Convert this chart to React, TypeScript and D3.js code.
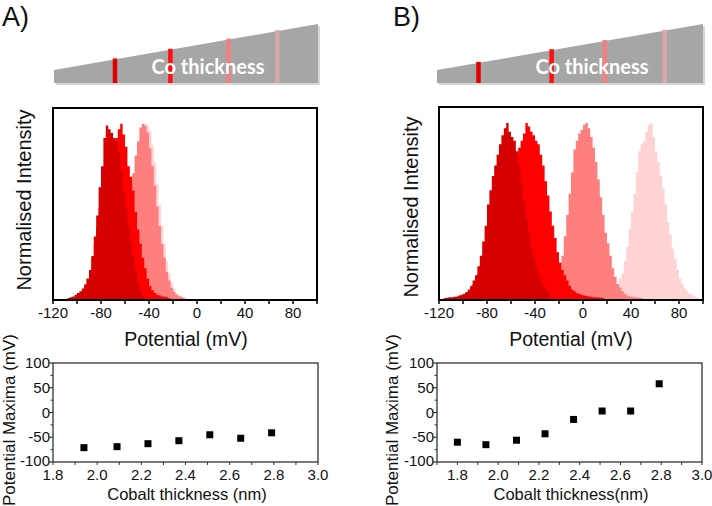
import React from 'react';
import * as d3 from 'd3';

// ---------- DATA ----------
const HIST_STEP = 2; // mV per bin
const histTicks = [-120, -80, -40, 0, 40, 80];
const histMinorTicks = [-100, -60, -20, 20, 60, 100];

// Panel A histograms (normalised intensity, 2 mV bins)
const histA_darkRed_start = -108;
const histA_darkRed = [0.012, 0.015, 0.02, 0.03, 0.04, 0.05, 0.065, 0.09, 0.12, 0.17, 0.25, 0.36, 0.48, 0.64, 0.76, 0.92, 0.99, 0.97, 0.95, 0.92, 0.9, 0.84, 0.74, 0.62, 0.52, 0.42, 0.33, 0.25, 0.17, 0.1, 0.05, 0.02];
const histA_red_start = -100;
const histA_red = [0.02, 0.03, 0.05, 0.08, 0.12, 0.17, 0.24, 0.32, 0.42, 0.52, 0.62, 0.7, 0.78, 0.84, 0.88, 0.9, 0.92, 0.97, 1.0, 0.94, 0.87, 0.76, 0.7, 0.62, 0.5, 0.4, 0.32, 0.24, 0.18, 0.12, 0.08, 0.055, 0.04, 0.03, 0.025, 0.02, 0.018, 0.015, 0.01];
const histA_salmon_start = -80;
const histA_salmon = [0.02, 0.03, 0.05, 0.08, 0.12, 0.18, 0.25, 0.33, 0.42, 0.5, 0.57, 0.62, 0.66, 0.72, 0.82, 0.9, 0.98, 1.0, 0.99, 0.95, 0.86, 0.76, 0.65, 0.53, 0.42, 0.32, 0.24, 0.16, 0.11, 0.07, 0.045, 0.03, 0.022, 0.018, 0.012];
const histA_pink_start = -76;
const histA_pink = [0.02, 0.03, 0.05, 0.08, 0.12, 0.18, 0.25, 0.33, 0.42, 0.5, 0.58, 0.66, 0.76, 0.86, 0.94, 0.99, 1.0, 0.99, 0.96, 0.88, 0.78, 0.66, 0.54, 0.42, 0.32, 0.22, 0.15, 0.1, 0.065, 0.04, 0.03, 0.02, 0.015, 0.01];

// Panel B histograms
const histB_darkRed_start = -116;
const histB_darkRed = [0.012, 0.013, 0.015, 0.015, 0.018, 0.02, 0.025, 0.03, 0.035, 0.045, 0.06, 0.08, 0.11, 0.14, 0.19, 0.25, 0.33, 0.42, 0.54, 0.62, 0.7, 0.76, 0.82, 0.88, 0.93, 0.97, 1.0, 0.95, 0.92, 0.9, 0.84, 0.76, 0.66, 0.56, 0.46, 0.38, 0.3, 0.24, 0.19, 0.15, 0.11, 0.08, 0.06, 0.045];
const histB_red_start = -110;
const histB_red = [0.01, 0.012, 0.015, 0.02, 0.025, 0.03, 0.04, 0.05, 0.07, 0.09, 0.12, 0.15, 0.19, 0.24, 0.3, 0.36, 0.43, 0.5, 0.57, 0.63, 0.68, 0.72, 0.76, 0.79, 0.8, 0.8, 0.81, 0.82, 0.86, 0.9, 0.94, 1.0, 0.98, 0.95, 0.93, 0.9, 0.88, 0.82, 0.76, 0.67, 0.59, 0.5, 0.42, 0.35, 0.27, 0.21, 0.17, 0.14, 0.11, 0.08, 0.06, 0.05, 0.04, 0.035, 0.03, 0.025, 0.022, 0.02, 0.018, 0.016, 0.015, 0.014, 0.013, 0.012];
const histB_salmon_start = -28;
const histB_salmon = [0.01, 0.02, 0.04, 0.08, 0.15, 0.25, 0.36, 0.48, 0.6, 0.72, 0.85, 0.9, 0.94, 0.96, 0.99, 1.0, 0.97, 0.92, 0.86, 0.78, 0.68, 0.58, 0.48, 0.38, 0.32, 0.25, 0.18, 0.13, 0.09, 0.07, 0.05, 0.035, 0.025, 0.02, 0.018, 0.016, 0.015, 0.013, 0.012];
const histB_pink_start = 28;
const histB_pink = [0.03, 0.12, 0.15, 0.22, 0.3, 0.4, 0.5, 0.6, 0.72, 0.84, 0.88, 0.9, 0.95, 0.99, 1.0, 0.92, 0.84, 0.78, 0.7, 0.63, 0.54, 0.44, 0.37, 0.29, 0.23, 0.17, 0.12, 0.09, 0.065, 0.05, 0.035, 0.03, 0.02, 0.015];

// Scatter: potential maxima vs cobalt thickness
const thicknessA = [1.94, 2.09, 2.23, 2.37, 2.51, 2.65, 2.79];
const maximaA = [-71, -69, -63, -57, -45, -52, -41];
const thicknessB = [1.8, 1.94, 2.09, 2.23, 2.37, 2.51, 2.65, 2.79];
const maximaB = [-60, -65, -56, -43, -14, 3, 3, 58];
const scatterXTicks = [1.8, 2.0, 2.2, 2.4, 2.6, 2.8, 3.0];
const scatterYTicks = [100, 50, 0, -50, -100];

const colors = { darkRed: '#d60000', red: '#ff0000', salmon: '#ff7f7f', pink: '#ffd3d3' };

const FONT = '"Liberation Sans", Arial, sans-serif';

type Series = { start: number; values: number[]; color: string };

function Histogram({ left, right, top, bottom, series }: { left: number; right: number; top: number; bottom: number; series: Series[] }) {
  const x = d3.scaleLinear().domain([-120, 100]).range([left, right]);
  const y = d3.scaleLinear().domain([0, 1.09]).range([bottom, top]);
  const area = d3
    .area<[number, number]>()
    .x((d) => x(d[0]))
    .y0(y(0))
    .y1((d) => y(d[1]))
    .curve(d3.curveStepAfter);
  return (
    <g>
      {series.map((s, i) => {
        const pts: [number, number][] = s.values.map((v, k) => [s.start + k * HIST_STEP, v]);
        pts.push([s.start + s.values.length * HIST_STEP, s.values[s.values.length - 1]]);
        return <path key={i} d={area(pts) || ''} fill={s.color} />;
      })}
      <rect x={left} y={top} width={right - left} height={bottom - top} fill="none" stroke="#000" strokeWidth={2} />
      {histTicks.concat(histMinorTicks).map((t) => (
        <line key={'t' + t} x1={x(t)} x2={x(t)} y1={bottom} y2={bottom + 4} stroke="#000" strokeWidth={1.5} />
      ))}
      {histTicks.map((t) => (
        <text key={'l' + t} x={x(t)} y={bottom + 18} textAnchor="middle" fontFamily={FONT} fontSize={15} fill="#111">
          {t}
        </text>
      ))}
    </g>
  );
}

function Scatter({ left, right, top, bottom, xDomain, xs, ys }: { left: number; right: number; top: number; bottom: number; xDomain: [number, number]; xs: number[]; ys: number[] }) {
  const x = d3.scaleLinear().domain(xDomain).range([left, right]);
  const y = d3.scaleLinear().domain([-100, 100]).range([bottom, top]);
  const minorX = d3.range(Math.round(xDomain[0] * 10), 31).map((v) => v / 10).filter((v) => v >= xDomain[0]);
  const minorY = [75, 25, -25, -75];
  return (
    <g>
      <rect x={left} y={top} width={right - left} height={bottom - top} fill="none" stroke="#333" strokeWidth={1.3} />
      {scatterYTicks.map((t) => (
        <g key={'y' + t}>
          <line x1={left - 4} x2={left} y1={y(t)} y2={y(t)} stroke="#333" strokeWidth={1.2} />
          <text x={left - 3} y={y(t) + (t === -100 ? 4 : 5)} textAnchor="end" fontFamily={FONT} fontSize={15} fill="#111">
            {t}
          </text>
        </g>
      ))}
      {minorY.map((t) => (
        <line key={'my' + t} x1={left - 2.5} x2={left} y1={y(t)} y2={y(t)} stroke="#333" strokeWidth={1} />
      ))}
      {minorX.map((t) => (
        <line key={'mx' + t} x1={x(t)} x2={x(t)} y1={bottom} y2={bottom + 3} stroke="#333" strokeWidth={1} />
      ))}
      {scatterXTicks.map((t) => (
        <text key={'x' + t} x={x(t)} y={bottom + 18} textAnchor="middle" fontFamily={FONT} fontSize={15} fill="#111">
          {t.toFixed(1)}
        </text>
      ))}
      {xs.map((v, i) => (
        <rect key={i} x={x(v) - 3.5} y={y(ys[i]) - 3.5} width={7} height={7} fill="#000" />
      ))}
    </g>
  );
}

function Wedge({ left, right, stripes, textX }: { left: number; right: number; stripes: { pos: number; color: string }[]; textX: number }) {
  const bottomY = 83;
  const leftTop = 70;
  const rightTop = 24;
  const topAt = (xx: number) => leftTop + ((xx - left) / (right - left)) * (rightTop - leftTop);
  return (
    <g>
      <polygon points={`${left + 2},${leftTop + 2} ${right + 2},${rightTop + 2} ${right + 2},${bottomY + 2} ${left + 2},${bottomY + 2}`} fill="#d6d6d6" />
      <polygon points={`${left},${leftTop} ${right},${rightTop} ${right},${bottomY} ${left},${bottomY}`} fill="#a6a6a6" />
      {stripes.map((s, i) => {
        const xx = left + s.pos * (right - left);
        return <rect key={i} x={xx - 2} y={topAt(xx) - 1} width={4.5} height={bottomY - topAt(xx) + 1} fill={s.color} />;
      })}
      <text x={textX} y={74} textAnchor="middle" fontFamily="Lato, 'Open Sans', sans-serif" fontWeight="bold" fontSize={20} fill="#fff">
        Co thickness
      </text>
    </g>
  );
}

export default function App() {
  const seriesA: Series[] = [
    { start: histA_pink_start, values: histA_pink, color: colors.pink },
    { start: histA_salmon_start, values: histA_salmon, color: colors.salmon },
    { start: histA_red_start, values: histA_red, color: colors.red },
    { start: histA_darkRed_start, values: histA_darkRed, color: colors.darkRed },
  ];
  const seriesB: Series[] = [
    { start: histB_pink_start, values: histB_pink, color: colors.pink },
    { start: histB_salmon_start, values: histB_salmon, color: colors.salmon },
    { start: histB_red_start, values: histB_red, color: colors.red },
    { start: histB_darkRed_start, values: histB_darkRed, color: colors.darkRed },
  ];
  const stripeColors = ['#e00000', '#ff1010', '#f08080', '#d8a8a8'];
  return (
    <svg width={712} height={506} style={{ position: 'absolute', left: 0, top: 0, background: '#fff' }}>
      <text x={2} y={26} fontFamily={FONT} fontSize={27} fill="#111">A)</text>
      <text x={393} y={26} fontFamily={FONT} fontSize={27} fill="#111">B)</text>

      <Wedge left={54} right={318} textX={208} stripes={[{ pos: 0.23, color: stripeColors[0] }, { pos: 0.44, color: stripeColors[1] }, { pos: 0.66, color: stripeColors[2] }, { pos: 0.845, color: stripeColors[3] }]} />
      <Wedge left={437} right={703} textX={592} stripes={[{ pos: 0.155, color: stripeColors[0] }, { pos: 0.43, color: stripeColors[1] }, { pos: 0.63, color: stripeColors[2] }, { pos: 0.855, color: stripeColors[3] }]} />

      <Histogram left={53} right={317} top={108} bottom={300} series={seriesA} />
      <Histogram left={439} right={703} top={107} bottom={300} series={seriesB} />

      <text transform="translate(31,200) rotate(-90)" textAnchor="middle" fontFamily={FONT} fontSize={20} fill="#111">Normalised Intensity</text>
      <text transform="translate(418,207) rotate(-90)" textAnchor="middle" fontFamily={FONT} fontSize={20} fill="#111">Normalised Intensity</text>
      <text x={186} y={346} textAnchor="middle" fontFamily={FONT} fontSize={19.5} fill="#111">Potential (mV)</text>
      <text x={571} y={346} textAnchor="middle" fontFamily={FONT} fontSize={19.5} fill="#111">Potential (mV)</text>

      <Scatter left={53} right={318} top={363} bottom={462} xDomain={[1.8, 3.0]} xs={thicknessA} ys={maximaA} />
      <Scatter left={437} right={702} top={363} bottom={462} xDomain={[1.7, 3.0]} xs={thicknessB} ys={maximaB} />

      <text transform="translate(15,420) rotate(-90)" textAnchor="middle" fontFamily={FONT} fontSize={17} fill="#111">Potential Maxima (mV)</text>
      <text transform="translate(398,420) rotate(-90)" textAnchor="middle" fontFamily={FONT} fontSize={17} fill="#111">Potential Maxima (mV)</text>
      <text x={187} y={500} textAnchor="middle" fontFamily={FONT} fontSize={16.5} fill="#111">Cobalt thickness (nm)</text>
      <text x={571} y={500} textAnchor="middle" fontFamily={FONT} fontSize={16.5} fill="#111">Cobalt thickness(nm)</text>
    </svg>
  );
}
